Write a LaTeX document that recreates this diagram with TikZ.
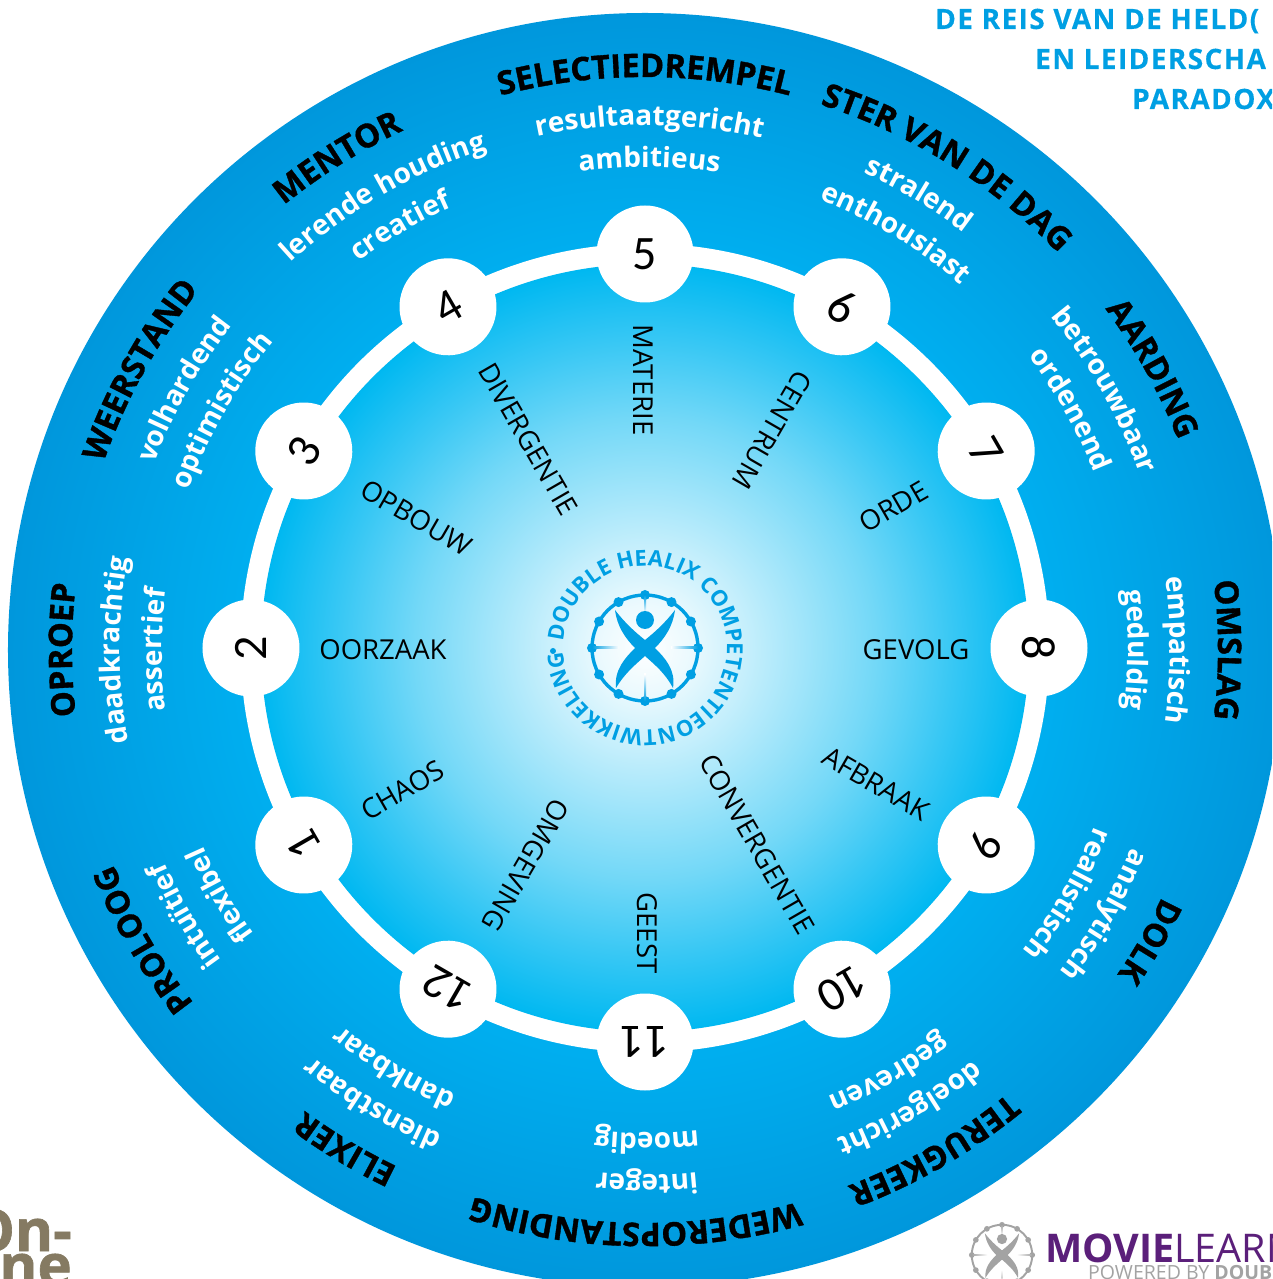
\documentclass[tikz,border=0pt]{standalone}
\usepackage{fontspec}
\setmainfont{Open Sans}
\newfontfamily\heavyfont{Open Sans}[BoldFeatures={FakeBold=1.1}]
\newfontfamily\wideheadfont{Open Sans}[LetterSpace=5,BoldFeatures={FakeBold=0.3}]
\newfontfamily\numberfont{Carlito}
\usetikzlibrary{decorations.text}
\definecolor{ringblue}{HTML}{00AEEF}
\definecolor{rimblue}{HTML}{00B8F1}
\definecolor{edgeblue}{HTML}{0097DC}
\definecolor{logoblue}{HTML}{009FE3}
\definecolor{moviepurple}{HTML}{5B1F7A}
\definecolor{logogray}{HTML}{A3A3A3}
\definecolor{onlinebrown}{HTML}{857A62}
\pgfdeclareradialshading{outerdisk}{\pgfpoint{0bp}{0bp}}{color(0bp)=(ringblue); color(16bp)=(ringblue); color(25bp)=(edgeblue); color(50bp)=(edgeblue)}
\pgfdeclareradialshading{innerdisk}{\pgfpoint{0bp}{0bp}}{color(0bp)=(white); color(3bp)=(white!92!rimblue); color(8bp)=(white!72!rimblue); color(15bp)=(white!45!rimblue); color(20bp)=(white!22!rimblue); color(25bp)=(rimblue); color(50bp)=(rimblue)}
\newcommand\titlefmt{\fontsize{32.5}{38}\selectfont\heavyfont\bfseries\color{black}}
\newcommand\linefmt{\fontsize{28}{33}\selectfont\bfseries\color{white}}
\newcommand\ringfmt{\fontsize{22}{26}\selectfont\bfseries\color{logoblue}}
% text on a clockwise arc round the middle of the disk
\newcommand\arctext[4]{\path[decorate,decoration={text along path,text align=center,text={|#4|#3}}] (#1+50:#2) arc[start angle=#1+50,end angle=#1-50,radius=#2];}
% the ring with the crossed figure
\newcommand\healix[4]{
\begin{scope}[shift={(#1,#2)},scale=#3]
\draw[#4,line width=#3*3.4pt] (0,0) circle (53);
\foreach \a in {0,30,...,330}
  \fill[#4] (\a:53) circle (5);
\shade[top color=#4,bottom color=white] (-1,53) rectangle (1,35);
\shade[top color=white,bottom color=#4] (-1,-53) rectangle (1,-26);
\shade[left color=#4,right color=white] (-53,-1) rectangle (-26,1);
\shade[left color=white,right color=#4] (26,-1) rectangle (53,1);
\fill[#4] (0,28) circle (9);
\fill[#4] (-30,38) .. controls (-28,22) and (-20,10) .. (-10,0)
  .. controls (-20,-10) and (-31,-22) .. (-29,-40)
  .. controls (-20,-25) and (-10,-17) .. (0,-8)
  .. controls (10,-17) and (20,-25) .. (28,-40)
  .. controls (31,-22) and (20,-10) .. (10,0)
  .. controls (20,10) and (28,22) .. (30,38)
  .. controls (20,25) and (10,16) .. (0,8)
  .. controls (-10,16) and (-20,25) .. (-30,38) -- cycle;
\end{scope}
}
\tikzset{
  numnode/.style={circle,fill=white,minimum size=97pt,inner sep=0pt,font=\numberfont\fontsize{48}{54}\selectfont},
  spokelabel/.style={font=\fontsize{27.5}{32}\selectfont,text=black,inner sep=0pt},
  headline/.style={font=\wideheadfont\fontsize{28}{32}\selectfont\bfseries,text=logoblue,inner sep=0pt,anchor=base west},
}

\begin{document}
\begin{tikzpicture}[x=1pt,y=1pt]
\path[use as bounding box,clip] (-645,-629) rectangle (627,650);
\fill[white] (-645,-629) rectangle (627,650);
% the disks
\shade[shading=outerdisk] (0,0) circle (637);
\begin{scope}[shift={(0,2)}]
\draw[white,line width=21pt] (0,0) circle (394);
\shade[shading=innerdisk] (0,0) circle (384);
% numbers on the ring
\foreach \n/\a in {1/210,2/180,3/150,4/120,5/90,6/60,7/30,8/0,9/-30,10/-60,11/-90,12/-120}
  \node[numnode,rotate=\a-90] (n\n) at (\a:394) {\n};
\end{scope}
% the labels inside the ring
\foreach \a/\r/\rot/\txt in {180/262/0/OORZAAK,150/264/-30/OPBOUW,119/241/-60/DIVERGENTIE,90.3/270/-90/MATERIE,
  60/254/-120/CENTRUM,30/287/30/ORDE,0/271/0/GEVOLG,-30/267/-30/AFBRAAK,
  -60/224/-60/CONVERGENTIE,-89.5/283/-90/GEEST,-119/246/-120/OMGEVING,-150/280/30/CHAOS}
  \node[spokelabel,rotate=\rot] (s\txt) at (\a:\r) {\txt};
% the labels outside the ring
\foreach \a/\b/\ttl/\lone/\ltwo in {180/180/OPROEP/daadkrachtig/assertief,151/150.5/WEERSTAND/volhardend/optimistisch,
  122/120/MENTOR/lerende houding/creatief,90/89.5/SELECTIEDREMPEL/resultaatgericht/ambitieus,
  58/59/STER VAN DE DAG/stralend/enthousiast,29/29.5/AARDING/betrouwbaar/ordenend,
  0/0/OMSLAG/empatisch/geduldig,-30/-30/DOLK/analytisch/realistisch,
  -60/-60/TERUGKEER/doelgericht/gedreven,-91/-89.8/WEDEROPSTANDING/integer/moedig,
  -121/-121/ELIXER/dienstbaar/dankbaar,-150/-150/PROLOOG/intuïtief/flexibel}
{
  \arctext{\a}{573}{\ttl}{\titlefmt}
  \arctext{\b}{525}{\lone}{\linefmt}
  \arctext{\b}{483}{\ltwo}{\linefmt}
}
% logo in the middle
\healix{0}{2}{1}{logoblue}
\begin{scope}[shift={(0,2)}]
\path[decorate,decoration={text along path,text align=center,text={|\ringfmt|DOUBLE HEALIX COMPETENTIEONTWIKKELING}}] (175:82) arc[start angle=175,end angle=-177,radius=82];
\end{scope}
\fill[logoblue] (-92,-1) circle (3);
% corners
\node[headline] (head1) at (290,621) {DE REIS VAN DE HELD(};
\node[headline] (head2) at (390,581) {EN LEIDERSCHA};
\node[headline] (head3) at (487,541) {PARADOX};
\node[font=\heavyfont\fontsize{58}{60}\selectfont\bfseries,text=onlinebrown,inner sep=0pt,anchor=base east] (online1) at (-573,-601) {On-};
\node[font=\heavyfont\fontsize{58}{60}\selectfont\bfseries,text=onlinebrown,inner sep=0pt,anchor=base east] (online2) at (-573,-636) {ne};
\healix{357}{-605}{0.57}{logogray}
\node[font=\fontsize{39.5}{44}\selectfont\bfseries,text=moviepurple,inner sep=0pt,anchor=base west] (movie) at (400,-612) {MOVIE\mdseries LEARN};
\node[font=\fontsize{19.5}{22}\selectfont,text=logogray,inner sep=0pt,anchor=base west] (powered) at (443,-629) {POWERED BY \textbf{DOUBL}};
\end{tikzpicture}
\end{document}
